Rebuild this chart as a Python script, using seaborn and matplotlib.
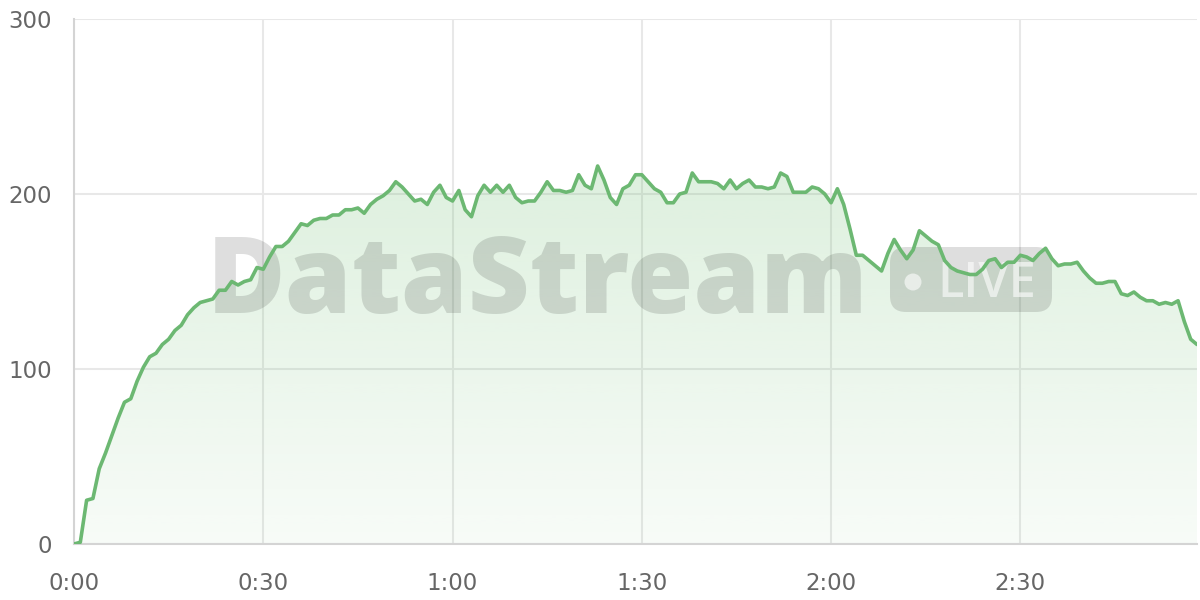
import numpy as np
import pandas as pd
import seaborn as sns
import matplotlib.pyplot as plt
from matplotlib.patches import FancyBboxPatch, Circle
from matplotlib.transforms import IdentityTransform

# values read per second (0:00 .. 2:58)
values_min0 = [0, 1, 25, 26, 43, 52, 62, 72, 81, 83,
               93, 101, 107, 109, 114, 117, 122, 125, 131, 135,
               138, 139, 140, 145, 145, 150, 148, 150, 151, 158,
               157, 164, 170, 170, 173, 178, 183, 182, 185, 186,
               186, 188, 188, 191, 191, 192, 189, 194, 197, 199,
               202, 207, 204, 200, 196, 197, 194, 201, 205, 198]
values_min1 = [196, 202, 191, 187, 199, 205, 201, 205, 201, 205,
               198, 195, 196, 196, 201, 207, 202, 202, 201, 202,
               211, 205, 203, 216, 208, 198, 194, 203, 205, 211,
               211, 207, 203, 201, 195, 195, 200, 201, 212, 207,
               207, 207, 206, 203, 208, 203, 206, 208, 204, 204,
               203, 204, 212, 210, 201, 201, 201, 204, 203, 200]
values_min2 = [195, 203, 194, 180, 165, 165, 162, 159, 156, 166,
               174, 168, 163, 168, 179, 176, 173, 171, 162, 158,
               156, 155, 154, 154, 157, 162, 163, 158, 161, 161,
               165, 164, 162, 166, 169, 163, 159, 160, 160, 161,
               156, 152, 149, 149, 150, 150, 143, 142, 144, 141,
               139, 139, 137, 138, 137, 139, 127, 117, 114]

tick_seconds = [0, 30, 60, 90, 120, 150]
tick_labels = ["0:00", "0:30", "1:00", "1:30", "2:00", "2:30"]
y_ticks = [0, 100, 200, 300]

values = values_min0 + values_min1 + values_min2
seconds = list(range(len(values)))
df = pd.DataFrame({"t": seconds, "v": values})

sns.set_theme(style="white")
plt.rcParams['font.family'] = ['DejaVu Sans']

green = "#6cb872"
W, H = 1200, 600
fig = plt.figure(figsize=(12, 6), dpi=100)
ax = fig.add_axes([74 / W, 56 / H, (1197 - 74) / W, (544 - 19) / H])

# gradient area under the line
poly = ax.fill_between(df["t"], df["v"], 0, color="none", lw=0)
vmax = df["v"].max()
rgba = np.zeros((256, 1, 4))
rgba[..., :3] = [102 / 255, 187 / 255, 106 / 255]
rgba[:, 0, 3] = np.linspace(0.05, 0.22, 256)
img = ax.imshow(rgba, extent=[0, seconds[-1], 0, vmax], origin="lower",
                aspect="auto", zorder=1, interpolation="bilinear")
img.set_clip_path(poly.get_paths()[0], ax.transData)

sns.lineplot(data=df, x="t", y="v", color=green, lw=2.6, ax=ax, zorder=3)

# watermark
px = IdentityTransform()
wm = ax.text(207, H - 313, "DataStream", transform=px, fontsize=84,
             fontweight=800, family="Open Sans", color="black",
             alpha=0.13, ha="left", va="baseline", zorder=2)
badge = FancyBboxPatch((890, H - 312), 162, 65,
                       boxstyle="round,pad=0,rounding_size=16",
                       transform=px, fc="black", ec="none", alpha=0.13,
                       zorder=2)
ax.add_patch(badge)
ax.add_patch(Circle((913, H - 282), 8.5, transform=px, fc="white",
                    ec="none", alpha=0.6, zorder=2))
ax.text(937, H - 297, "LIVE", transform=px, fontsize=35, fontweight=600,
        family="Open Sans", color="white", alpha=0.6,
        ha="left", va="baseline", zorder=2)

ax.set_xlim(0, seconds[-1])
ax.set_ylim(0, 300)
ax.set_xticks(tick_seconds)
ax.set_xticklabels(tick_labels)
ax.set_yticks(y_ticks)
ax.set_xlabel("")
ax.set_ylabel("")

ax.grid(True, color="#e8e8e8", lw=1.5)
ax.set_axisbelow(True)
ax.tick_params(axis="both", length=11, width=1.5, color="#e6e6e6",
               labelcolor="#666666", labelsize=16.5)
ax.tick_params(axis="x", pad=9)
ax.tick_params(axis="y", pad=5)
for side in ["top", "right"]:
    ax.spines[side].set_visible(False)
for side in ["left", "bottom"]:
    ax.spines[side].set_color("#d4d4d4")
    ax.spines[side].set_linewidth(1.5)

# fit the watermark width (207..868 px)
fig.canvas.draw()
bb = wm.get_window_extent()
wm.set_fontsize(84 * 661 / bb.width)

fig.savefig("out.png", dpi=100)
